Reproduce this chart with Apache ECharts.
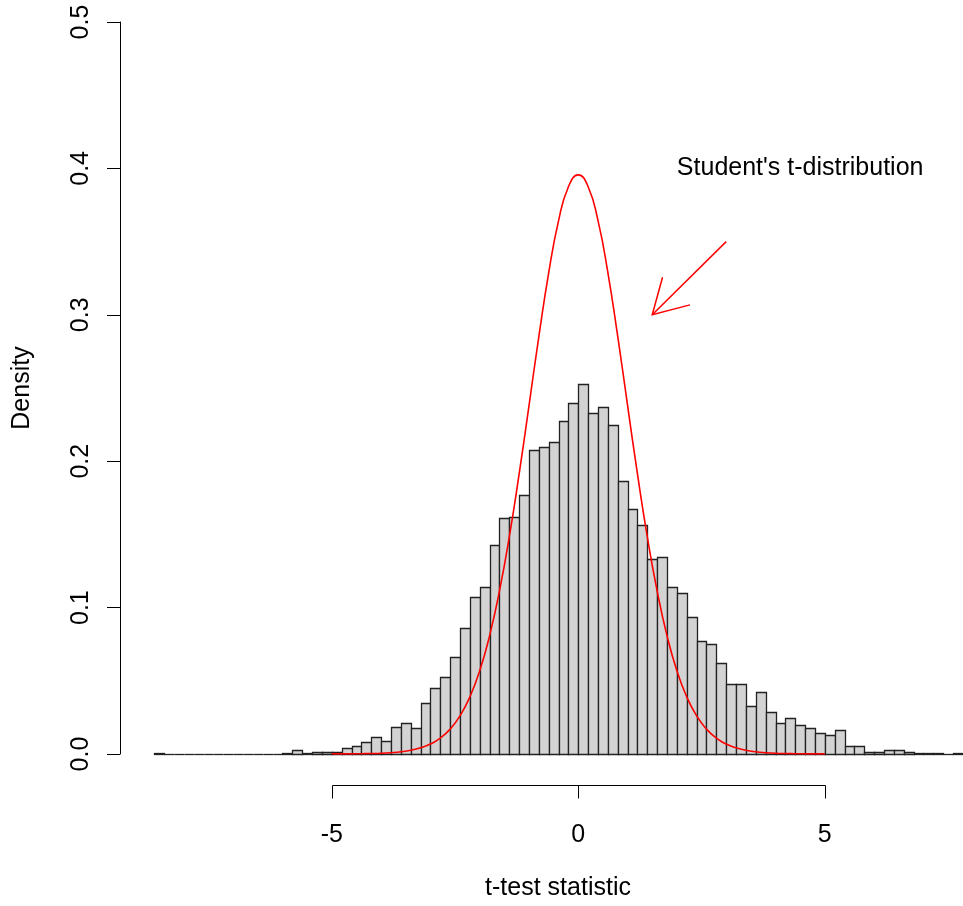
<!DOCTYPE html>
<html><head><meta charset="utf-8">
<script src="https://cdn.jsdelivr.net/npm/echarts@6/dist/echarts.min.js"></script>
<style>html,body{margin:0;padding:0;background:#fff}#c{width:963px;height:906px}</style>
</head><body><div id="c"></div>
<script>
// Histogram: first bin left edge and bin width
const binStart = -8.6;
const binWidth = 0.2;
// Densities of the bins from -8.6 to 7.8
const densities = [
  0.001,
  0, 0, 0, 0, 0, 0, 0, 0, 0, 0, 0, 0,
  0.001, 0.0027, 0.001, 0.0016, 0.0016, 0.0014, 0.0043, 0.0052, 0.008, 0.0113,
  0.0088, 0.0186, 0.0214, 0.0178, 0.0349, 0.0451, 0.0524, 0.066, 0.0859, 0.1075,
  0.114, 0.143, 0.161, 0.162, 0.1767, 0.2075, 0.21, 0.213, 0.2274, 0.2395,
  0.2528, 0.2329, 0.2372, 0.2245, 0.1864, 0.1673, 0.1567, 0.1329, 0.1347, 0.114,
  0.110, 0.0939, 0.0769, 0.075, 0.0624, 0.0478, 0.0478, 0.0331, 0.0422, 0.0288,
  0.0215, 0.0243, 0.0195, 0.0179, 0.0143, 0.0131, 0.0161, 0.0057, 0.0057, 0.0014,
  0.0012, 0.0025, 0.0025, 0.0015, 0.0008, 0.0008, 0.0008, 0, 0.0008
];
// Red density curve
const curveX = [-5,-4.8,-4.6,-4.4,-4.2,-4,-3.8,-3.6,-3.4,-3.2,-3,-2.8,-2.6,-2.4,-2.2,-2,-1.8,-1.6,-1.4,-1.2,-1,-0.8,-0.6,-0.4,-0.2,0,
  0.2,0.4,0.6,0.8,1,1.2,1.4,1.6,1.8,2,2.2,2.4,2.6,2.8,3,3.2,3.4,3.6,3.8,4,4.2,4.4,4.6,4.8,5];
const curveY = [0.0001,0.0001,0.0001,0.0002,0.0003,0.0005,0.0009,0.0015,0.0025,0.0042,0.0068,0.0108,0.0170,0.0260,0.0389,0.0568,0.0807,0.1112,0.1483,0.1913,0.2380,0.2852,0.3288,0.3643,0.3875,0.3956,
  0.3875,0.3643,0.3288,0.2852,0.2380,0.1913,0.1483,0.1112,0.0807,0.0568,0.0389,0.0260,0.0170,0.0108,0.0068,0.0042,0.0025,0.0015,0.0009,0.0005,0.0003,0.0002,0.0001,0.0001,0.0001];
const xTicks = [-5, 0, 5];
const yTicks = [0, 0.1, 0.2, 0.3, 0.4, 0.5];
const xLabel = 't-test statistic';
const yLabel = 'Density';
const annotationText = "Student's t-distribution";
const annotationPos = [4.5, 0.4];
const arrowFrom = [3, 0.35];
const arrowTo = [1.5, 0.3];

const FONT = "'Liberation Sans', Arial, Helvetica, sans-serif";
const FS = 25;
const histData = densities.map((d, i) => [
  +(binStart + i * binWidth).toFixed(2), +(binStart + (i + 1) * binWidth).toFixed(2), d
]);

const chart = echarts.init(document.getElementById('c'), null, {renderer: 'canvas'});
const option = {
  animation: false,
  backgroundColor: '#ffffff',
  grid: {left: 120, right: 0, top: 22, bottom: 149, containLabel: false},
  xAxis: {
    type: 'value', min: -9.296, max: 7.803, offset: 31,
    axisLine: {show: false, onZero: false},
    axisTick: {show: false},
    axisLabel: {customValues: xTicks, margin: 38, fontSize: FS, color: '#000', fontFamily: FONT},
    splitLine: {show: false},
    name: xLabel, nameLocation: 'middle', nameGap: 91,
    nameTextStyle: {fontSize: FS, color: '#000', fontFamily: FONT, padding: [0, 0, 0, 33]}
  },
  yAxis: {
    type: 'value', min: yTicks[0], max: yTicks[yTicks.length - 1], interval: 0.1,
    axisLine: {show: true, onZero: false, lineStyle: {color: '#000', width: 1}},
    axisTick: {show: true, length: 13, lineStyle: {color: '#000', width: 1}},
    axisLabel: {rotate: 90, margin: 26, fontSize: FS, color: '#000', fontFamily: FONT,
      formatter: v => v.toFixed(1)},
    splitLine: {show: false},
    name: yLabel, nameLocation: 'middle', nameRotate: 90, nameGap: 85,
    nameTextStyle: {fontSize: FS, color: '#000', fontFamily: FONT}
  },
  series: [
    {
      type: 'custom',
      data: histData,
      encode: {x: [0, 1], y: 2},
      clip: false,
      z: 2,
      renderItem: function (params, api) {
        const x0 = api.value(0), x1 = api.value(1), h = api.value(2);
        const pTop = api.coord([x0, h]);
        const pBot = api.coord([x1, 0]);
        const left = Math.round(pTop[0]) + 0.5, right = Math.round(pBot[0]) + 0.5;
        const top = Math.round(pTop[1]) + 0.5, bot = Math.round(pBot[1]) + 0.5;
        if (h === 0) {
          return {type: 'line', shape: {x1: left, y1: bot, x2: right, y2: bot},
            style: {stroke: '#222', lineWidth: 1.3}};
        }
        return {
          type: 'rect',
          shape: {x: left, y: top, width: right - left, height: bot - top},
          style: {fill: '#d3d3d3', stroke: '#222', lineWidth: 1.3}
        };
      }
    },
    {
      type: 'line',
      data: curveX.map((x, i) => [x, curveY[i]]),
      showSymbol: false,
      smooth: true,
      z: 5,
      lineStyle: {color: '#ff0000', width: 1.6}
    }
  ]
};
chart.setOption(option);

const px = pt => chart.convertToPixel({gridIndex: 0}, pt);
const y0 = Math.round(px([0, 0])[1]) + 31 + 0.5;
const xa = Math.round(px([xTicks[0], 0])[0]) + 0.5;
const xb = Math.round(px([xTicks[xTicks.length - 1], 0])[0]) + 0.5;
const A = px(arrowFrom), B = px(arrowTo);
const ang = Math.atan2(A[1] - B[1], A[0] - B[0]);
const headLen = 39, headAng = Math.PI / 6;
const h1 = [B[0] + headLen * Math.cos(ang + headAng), B[1] + headLen * Math.sin(ang + headAng)];
const h2 = [B[0] + headLen * Math.cos(ang - headAng), B[1] + headLen * Math.sin(ang - headAng)];
const T = px(annotationPos);
const graphics = [
  {type: 'line', shape: {x1: xa, y1: y0, x2: xb, y2: y0}, style: {stroke: '#000', lineWidth: 1}, z: 10},
  {type: 'line', shape: {x1: A[0], y1: A[1], x2: B[0], y2: B[1]}, style: {stroke: '#ff0000', lineWidth: 1.5}, z: 10},
  {type: 'polyline', shape: {points: [h1, B, h2]}, style: {stroke: '#ff0000', lineWidth: 1.5, fill: null}, z: 10},
  {type: 'text', x: T[0], y: T[1], z: 10,
    style: {text: annotationText, fontSize: FS, fontFamily: FONT, fill: '#000', align: 'center', verticalAlign: 'middle'}}
];
xTicks.forEach(t => {
  const x = Math.round(px([t, 0])[0]) + 0.5;
  graphics.push({type: 'line', shape: {x1: x, y1: y0, x2: x, y2: y0 + 13}, style: {stroke: '#000', lineWidth: 1}, z: 10});
});
chart.setOption({graphic: graphics});
</script>
</body></html>
